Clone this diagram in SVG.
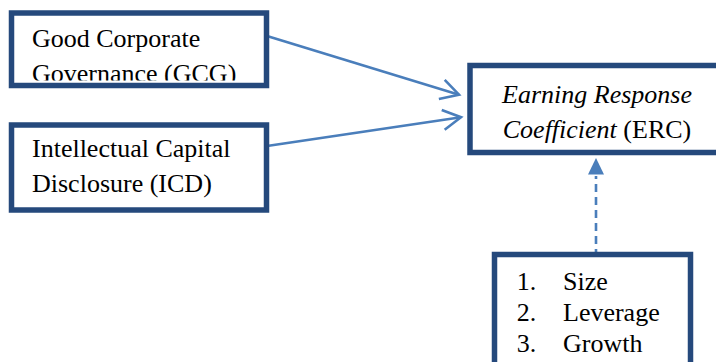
<svg xmlns="http://www.w3.org/2000/svg" width="716" height="362" viewBox="0 0 716 362">
  <style>
    .box { fill: #ffffff; stroke: #25497C; stroke-width: 5.5; }
    .t { font-family: "Liberation Serif", "Times New Roman", serif; font-size: 26px; fill: #000000; }
    .it { font-style: italic; }
    .conn { stroke: #4A7EBB; stroke-width: 2.6; fill: none; }
  </style>
  <defs>
    <marker id="open" markerUnits="userSpaceOnUse" markerWidth="24" markerHeight="24" viewBox="-20 -12 24 24" refX="0" refY="0" orient="auto">
      <path d="M-18,-10 L0,0 L-18,10" fill="none" stroke="#4A7EBB" stroke-width="2.6"/>
    </marker>
    <clipPath id="clipGCG">
      <rect x="14" y="16" width="250" height="64.5"/>
    </clipPath>
  </defs>

  <rect width="716" height="362" fill="#ffffff"/>

  <g id="connectors">
    <line class="conn" x1="267" y1="36" x2="459" y2="94.7" marker-end="url(#open)"/>
    <line class="conn" x1="267" y1="146" x2="461" y2="117.2" marker-end="url(#open)"/>
    <line class="conn" x1="596" y1="257" x2="596" y2="176" stroke-dasharray="8 5"/>
    <polygon points="596,158 588,174.5 604,174.5" fill="#4A7EBB"/>
  </g>

  <g id="gcg">
    <rect class="box" x="11.5" y="13" width="255" height="72.5"/>
    <g clip-path="url(#clipGCG)">
      <text class="t" x="32" y="46.5">Good Corporate</text>
      <text class="t" x="32" y="81.5">Governance (GCG)</text>
    </g>
  </g>

  <g id="icd">
    <rect class="box" x="11.5" y="125" width="255" height="85"/>
    <text class="t" x="32" y="156.7">Intellectual Capital</text>
    <text class="t" x="32" y="191.7">Disclosure (ICD)</text>
  </g>

  <g id="erc">
    <rect class="box" x="470" y="65.5" width="260" height="87"/>
    <text class="t it" x="597" y="103.3" text-anchor="middle">Earning Response</text>
    <text class="t" x="597" y="138.3" text-anchor="middle"><tspan class="it">Coefficient</tspan> (ERC)</text>
  </g>

  <g id="controls">
    <rect class="box" x="494.5" y="254.5" width="196" height="130"/>
    <text class="t" x="516.7" y="290">1.</text>
    <text class="t" x="563" y="290">Size</text>
    <text class="t" x="516.7" y="321">2.</text>
    <text class="t" x="563" y="321">Leverage</text>
    <text class="t" x="516.7" y="351.5">3.</text>
    <text class="t" x="563" y="351.5">Growth</text>
  </g>
</svg>
